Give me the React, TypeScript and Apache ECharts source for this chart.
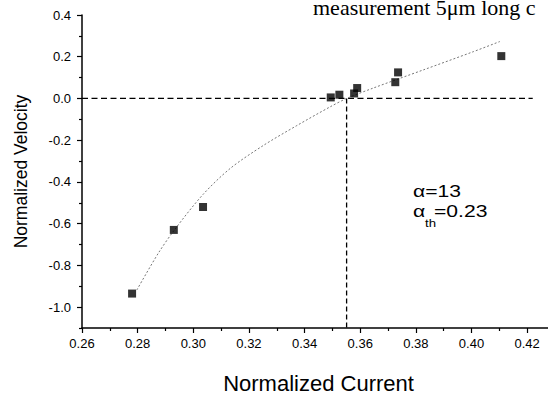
import React, { useEffect, useRef } from "react";
import * as echarts from "echarts";

// Measured points (normalized current, normalized velocity)
const currentData = [0.278, 0.293, 0.3035, 0.3494, 0.3525, 0.3578, 0.3589, 0.3726, 0.3736, 0.4107];
const velocityData = [-0.935, -0.63, -0.52, 0.005, 0.018, 0.024, 0.05, 0.078, 0.125, 0.203];

// Fitted curve
const fitCurrent = [0.2797, 0.2875, 0.2935, 0.3035, 0.3133, 0.3252, 0.3372, 0.3492, 0.3551, 0.3647, 0.3827, 0.4006, 0.4102];
const fitVelocity = [-0.918, -0.74, -0.625, -0.46, -0.335, -0.225, -0.13, -0.04, 0, 0.05, 0.137, 0.224, 0.273];

// Threshold reference lines
const thresholdCurrent = 0.3551;
const zeroLineX = [0.26, 0.422];
const vLineY = [0, -1.1];

// Axis ticks
const yMajorTicks = [-1.0, -0.8, -0.6, -0.4, -0.2, 0.0, 0.2, 0.4];
const yMinorTicks = [-1.1, -0.9, -0.7, -0.5, -0.3, -0.1, 0.1, 0.3];

const titleText = "measurement 5μm long c";
const alphaText = "α=13";
const alphaThValue = "=0.23";

const SANS = "'Liberation Sans', Arial, sans-serif";
const SERIF = "'Liberation Serif', 'Times New Roman', serif";

export default function App() {
  const ref = useRef<HTMLDivElement>(null);
  useEffect(() => {
    const chart = echarts.init(ref.current!, null, { renderer: "svg" });
    const points = currentData.map((x, i) => [x, velocityData[i]]);
    const fit = fitCurrent.map((x, i) => [x, fitVelocity[i]]);
    chart.setOption({
      animation: false,
      backgroundColor: "#fff",
      grid: { left: 82, right: -7, top: 15, bottom: 68, containLabel: false, outerBoundsMode: "none" },
      xAxis: {
        type: "value",
        min: 0.26,
        max: 0.43,
        interval: 0.02,
        name: "Normalized Current",
        nameLocation: "middle",
        nameGap: 44,
        nameTextStyle: { fontFamily: SANS, fontSize: 22, color: "#000" },
        axisLine: { show: true, onZero: false, lineStyle: { color: "#000", width: 1.5 } },
        axisTick: { show: true, length: 5, lineStyle: { color: "#000", width: 1.2 } },
        minorTick: { show: true, splitNumber: 2, length: 3, lineStyle: { color: "#000", width: 1.2 } },
        axisLabel: {
          fontFamily: SANS,
          fontSize: 13,
          color: "#000",
          margin: 9,
          showMaxLabel: false,
          formatter: (v: number) => v.toFixed(2),
        },
        splitLine: { show: false },
      },
      yAxis: [
        {
          type: "value",
          min: -1.1,
          max: 0.4,
          position: "left",
          name: "Normalized Velocity",
          nameLocation: "middle",
          nameGap: 52,
          nameTextStyle: { fontFamily: SANS, fontSize: 17.5, color: "#000" },
          axisLine: { show: true, onZero: false, lineStyle: { color: "#000", width: 1.5 } },
          axisTick: { show: true, length: 5, customValues: yMajorTicks, lineStyle: { color: "#000", width: 1.2 } },
          axisLabel: {
            fontFamily: SANS,
            fontSize: 13,
            color: "#000",
            margin: 11,
            customValues: yMajorTicks,
            formatter: (v: number) => v.toFixed(1),
          },
          splitLine: { show: false },
        },
        {
          type: "value",
          min: -1.1,
          max: 0.4,
          position: "left",
          offset: 0,
          axisLine: { show: false },
          axisTick: { show: true, length: 3, customValues: yMinorTicks, lineStyle: { color: "#000", width: 1.2 } },
          axisLabel: { show: false },
          splitLine: { show: false },
        },
      ],
      graphic: [
        {
          type: "text",
          x: 313,
          y: 7,
          style: { text: titleText, font: `22px ${SERIF}`, fill: "#000", verticalAlign: "middle", align: "left" },
        },
        {
          type: "text",
          x: 413,
          y: 191,
          scaleX: 1.28,
          style: { text: alphaText, font: `16.5px ${SANS}`, fill: "#000", verticalAlign: "middle", align: "left" },
        },
        {
          type: "text",
          x: 413,
          y: 211,
          scaleX: 1.28,
          style: { text: "α", font: `16.5px ${SANS}`, fill: "#000", verticalAlign: "middle", align: "left" },
        },
        {
          type: "text",
          x: 425,
          y: 223,
          scaleX: 1.15,
          style: { text: "th", font: `11.5px ${SANS}`, fill: "#000", verticalAlign: "middle", align: "left" },
        },
        {
          type: "text",
          x: 434,
          y: 211,
          scaleX: 1.28,
          style: { text: alphaThValue, font: `16.5px ${SANS}`, fill: "#000", verticalAlign: "middle", align: "left" },
        },
      ],
      series: [
        {
          type: "line",
          data: zeroLineX.map((x) => [x, 0]),
          symbol: "none",
          silent: true,
          lineStyle: { color: "#000", width: 1.3, type: [6, 3.5] },
          z: 1,
        },
        {
          type: "line",
          data: vLineY.map((y) => [thresholdCurrent, y]),
          symbol: "none",
          silent: true,
          lineStyle: { color: "#000", width: 1.3, type: [5, 3] },
          z: 1,
        },
        {
          type: "line",
          data: fit,
          symbol: "none",
          smooth: 0.3,
          silent: true,
          lineStyle: { color: "#777", width: 1, type: [2, 2] },
          z: 2,
        },
        {
          type: "scatter",
          data: points,
          symbol: "rect",
          symbolSize: 8,
          itemStyle: { color: "#000" },
          z: 3,
        },
      ],
    });
    return () => chart.dispose();
  }, []);
  return (
    <div
      ref={ref}
      style={{ position: "fixed", left: 0, top: 0, width: 548, height: 396, background: "#fff" }}
    />
  );
}
